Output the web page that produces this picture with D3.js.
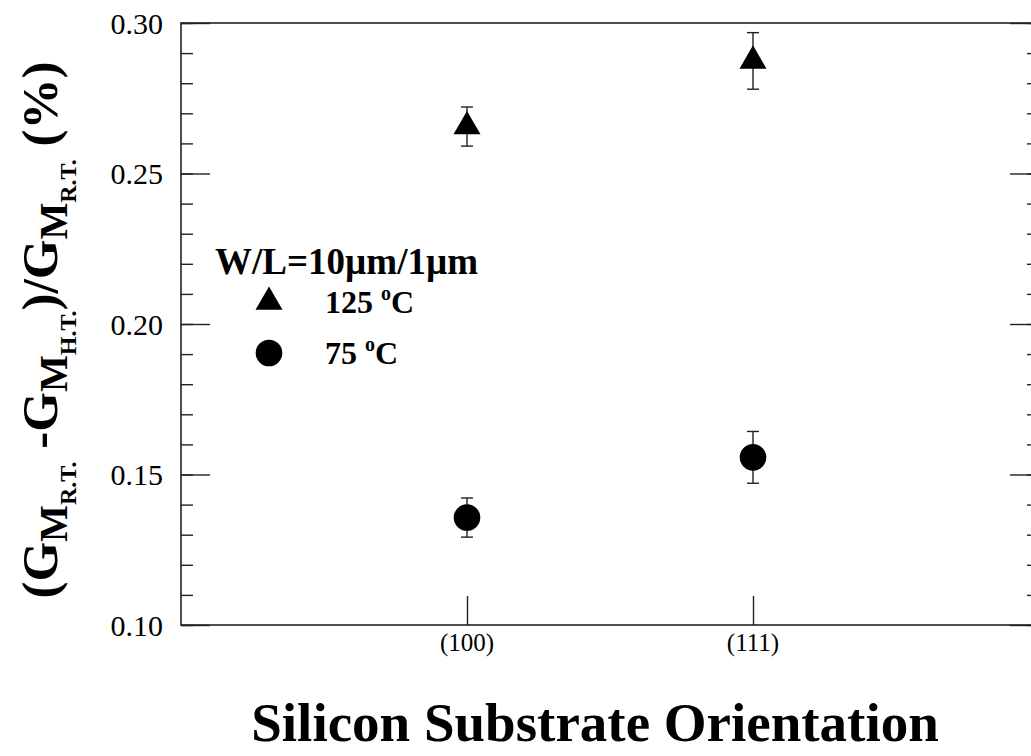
<!DOCTYPE html>
<html>
<head>
<meta charset="utf-8">
<script src="https://cdn.jsdelivr.net/npm/d3@7"></script>
<style>
  body { margin: 0; background: #fff; }
</style>
</head>
<body>
<div id="chart"></div>
<script>
var orientations = ["(100)", "(111)"];
var hot125 = [0.2656, 0.2874];
var err125 = [0.0065, 0.0094];
var hot75 = [0.1357, 0.1557];
var err75 = [0.0065, 0.0086];
var yMajor = [0.10, 0.15, 0.20, 0.25, 0.30];
var yMinor = d3.range(10, 31).map(function(d) { return d / 100; });

var serif = "'Liberation Serif', 'Times New Roman', Tinos, 'DejaVu Serif', serif";
var w = 1031, h = 756;
var margin = { top: 23, right: -8, bottom: 131, left: 181 };

var svg = d3.select("#chart").append("svg")
   .attr("width", w)
   .attr("height", h)
   .attr("font-family", serif);

var xScale = d3.scalePoint()
   .domain(orientations)
   .range([margin.left, w - margin.right])
   .padding(1);
var yScale = d3.scaleLinear()
   .domain([0.10, 0.30])
   .range([h - margin.bottom, margin.top]);

var x0 = margin.left, x1 = w - margin.right;
var y0 = h - margin.bottom, y1 = margin.top;

// frame
svg.append("rect")
   .attr("x", x0).attr("y", y1)
   .attr("width", x1 - x0).attr("height", y0 - y1)
   .attr("fill", "none")
   .attr("stroke", "#222")
   .attr("stroke-width", 1.6);

function ticks(axis, pos, size, vals) {
  svg.append("g")
     .attr("transform", pos)
     .call(axis.tickValues(vals).tickSize(size).tickFormat(""))
     .call(function(g) { g.select(".domain").remove(); })
     .selectAll("line").attr("stroke", "#222").attr("stroke-width", 1.4);
}
// left + right axes
ticks(d3.axisRight(yScale), "translate(" + x0 + ",0)", 12, yMinor);
ticks(d3.axisRight(yScale), "translate(" + x0 + ",0)", 29, yMajor);
ticks(d3.axisLeft(yScale), "translate(" + x1 + ",0)", 12, yMinor);
ticks(d3.axisLeft(yScale), "translate(" + x1 + ",0)", 29, yMajor);

svg.selectAll(".ylab")
   .data(yMajor)
   .enter()
   .append("text")
   .attr("class", "ylab")
   .attr("x", x0 - 18)
   .attr("y", function(d) { return yScale(d); })
   .attr("dy", "0.35em")
   .attr("text-anchor", "end")
   .style("font-family", serif)
   .style("font-size", "30px")
   .text(d3.format(".2f"));

// bottom axis
ticks(d3.axisTop(xScale), "translate(0," + y0 + ")", 29, orientations);
svg.selectAll(".xlab")
   .data(orientations)
   .enter()
   .append("text")
   .attr("class", "xlab")
   .attr("x", function(d) { return xScale(d); })
   .attr("y", y0 + 26)
   .attr("text-anchor", "middle")
   .style("font-family", serif)
   .style("font-size", "25px")
   .text(function(d) { return d; });

// error bars and markers
function drawSeries(vals, errs, shape, cls) {
  var g = svg.append("g").attr("class", cls);
  orientations.forEach(function(o, i) {
    var cx = xScale(o);
    var top = yScale(vals[i] + errs[i]), bot = yScale(vals[i] - errs[i]);
    g.append("line").attr("x1", cx).attr("x2", cx).attr("y1", top).attr("y2", bot)
       .attr("stroke", "#222").attr("stroke-width", 1.4);
    g.append("line").attr("x1", cx - 6).attr("x2", cx + 6).attr("y1", top).attr("y2", top)
       .attr("stroke", "#222").attr("stroke-width", 1.4);
    g.append("line").attr("x1", cx - 6).attr("x2", cx + 6).attr("y1", bot).attr("y2", bot)
       .attr("stroke", "#222").attr("stroke-width", 1.4);
  });
  g.selectAll("path")
     .data(vals)
     .enter()
     .append("path")
     .attr("d", shape)
     .attr("fill", "#000")
     .attr("transform", function(d, i) {
       return "translate(" + xScale(orientations[i]) + "," + yScale(d) + ")";
     });
}
var triShape = d3.symbol().type(d3.symbolTriangle).size(316)();
var dotShape = d3.symbol().type(d3.symbolCircle).size(556)();
drawSeries(hot125, err125, triShape, "s125");
drawSeries(hot75, err75, dotShape, "s75");

// annotation + legend
svg.append("text")
   .attr("x", 215)
   .attr("y", 274)
   .style("font-family", serif)
   .style("font-size", "37px")
   .style("font-weight", "bold")
   .text("W/L=10\u00b5m/1\u00b5m");

var legendItems = [
  { shape: triShape, deg: "125 " },
  { shape: dotShape, deg: "75 " }
];
var leg = svg.selectAll(".leg")
   .data(legendItems)
   .enter()
   .append("g")
   .attr("class", "leg")
   .attr("transform", function(d, i) { return "translate(269," + (302 + i * 51) + ")"; });
leg.append("path").attr("d", function(d) { return d.shape; }).attr("fill", "#000");
var lt = leg.append("text")
   .attr("x", 56)
   .attr("y", 11)
   .style("font-family", serif)
   .style("font-size", "32px")
   .style("font-weight", "bold");
lt.append("tspan").text(function(d) { return d.deg; });
lt.append("tspan").attr("dy", -13).style("font-size", "20px").text("o");
lt.append("tspan").attr("dy", 13).text("C");

// axis titles
svg.append("text")
   .attr("x", 595)
   .attr("y", 741)
   .attr("text-anchor", "middle")
   .style("font-family", serif)
   .style("font-size", "55px")
   .style("font-weight", "bold")
   .text("Silicon Substrate Orientation");

var yt = svg.append("text")
   .attr("transform", "translate(57,330)rotate(-90)")
   .attr("text-anchor", "middle")
   .style("font-family", serif)
   .style("font-weight", "bold")
   .style("font-size", "51px");
var parts = [["(G", "R.T."], [" -G", "H.T."], [")/G", "R.T."]];
parts.forEach(function(p, i) {
  yt.append("tspan").attr("dy", i === 0 ? 0 : -19).style("font-size", "51px").text(p[0]);
  yt.append("tspan").attr("dy", 10).style("font-size", "39px").text("M");
  yt.append("tspan").attr("dy", 9).style("font-size", "24px").text(p[1]);
});
yt.append("tspan").attr("dy", -19).style("font-size", "51px").text(" (%)");
</script>
</body>
</html>
